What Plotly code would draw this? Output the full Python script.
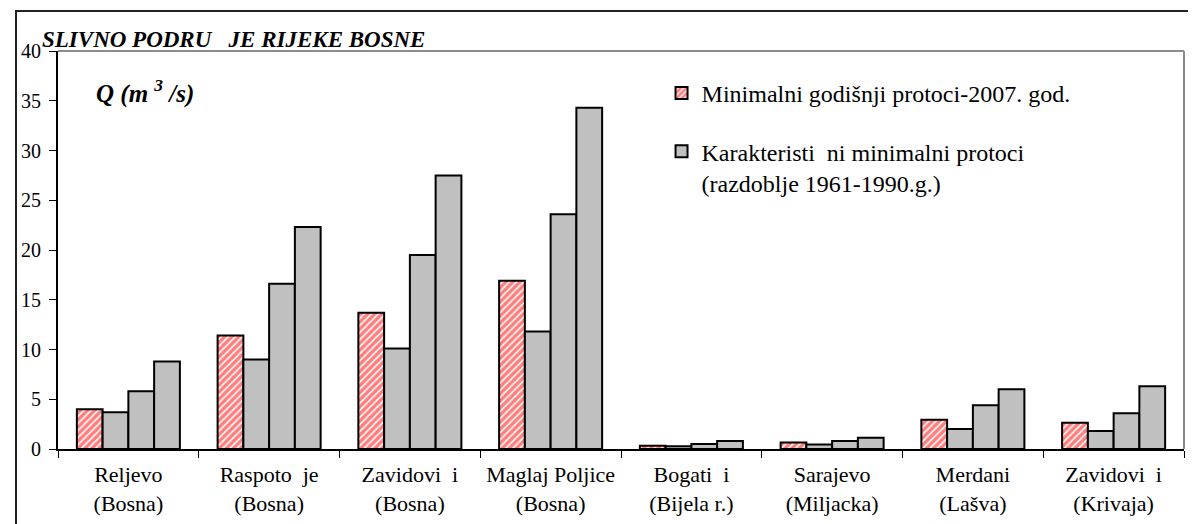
import plotly.graph_objects as go

NB = "\u00a0"
categories = [
    "Reljevo<br>(Bosna)",
    f"Raspoto{NB}{NB}je<br>(Bosna)",
    f"Zavidovi{NB}{NB}i<br>(Bosna)",
    "Maglaj Poljice<br>(Bosna)",
    f"Bogati{NB}{NB}i<br>(Bijela r.)",
    "Sarajevo<br>(Miljacka)",
    "Merdani<br>(Lašva)",
    f"Zavidovi{NB}{NB}i<br>(Krivaja)",
]
min_2007 = [4.0, 11.4, 13.7, 16.9, 0.33, 0.65, 2.95, 2.65]
char_min_a = [3.7, 9.0, 10.1, 11.8, 0.27, 0.46, 2.0, 1.8]
char_min_b = [5.8, 16.6, 19.5, 23.6, 0.5, 0.8, 4.4, 3.6]
char_min_c = [8.8, 22.3, 27.5, 34.3, 0.8, 1.14, 6.0, 6.3]
y_ticks = [0, 5, 10, 15, 20, 25, 30, 35, 40]

FONT = "Times New Roman"
GRAY = "#c0c0c0"

fig = go.Figure()
fig.add_trace(go.Bar(
    x=categories, y=min_2007, name="Minimalni godišnji protoci-2007. god.",
    legendgroup="a",
    marker=dict(color="white", line=dict(color="black", width=2),
                pattern=dict(shape="/", fgcolor="#ff0000", bgcolor="white",
                             size=5, solidity=0.7)),
))
gray_name = f"Karakteristi{NB}{NB}ni minimalni protoci<br>(razdoblje 1961-1990.g.)"
for i, vals in enumerate([char_min_a, char_min_b, char_min_c]):
    fig.add_trace(go.Bar(
        x=categories, y=vals, name=gray_name, legendgroup="b",
        showlegend=(i == 0),
        marker=dict(color=GRAY, line=dict(color="black", width=2)),
    ))

fig.update_layout(
    width=1196, height=524,
    margin=dict(l=50, r=20, t=43, b=83),
    paper_bgcolor="white", plot_bgcolor="white",
    barmode="group", bargap=0.268, bargroupgap=0,
    font=dict(family=FONT, size=20, color="black"),
    legend=dict(x=0.536, y=0.95, xanchor="left", yanchor="top",
                font=dict(family=FONT, size=24, color="black"),
                traceorder="grouped", tracegroupgap=24, valign="top",
                bgcolor="rgba(0,0,0,0)"),
    showlegend=True,
)
fig.update_yaxes(range=[0, 40], tickvals=y_ticks, ticks="outside", ticklen=7,
                 tickcolor="black", showline=True, linecolor="black", linewidth=2,
                 showgrid=False, zeroline=False, ticklabelstandoff=4,
                 tickfont=dict(family=FONT, size=20, color="black"))
fig.update_xaxes(ticks="outside", tickson="boundaries", ticklen=7, tickcolor="black",
                 showline=True, linecolor="black", linewidth=1.5, showgrid=False,
                 ticklabelstandoff=5,
                 tickfont=dict(family=FONT, size=22, color="black"))

# plot frame (top & right, gray)
fig.add_shape(type="line", xref="paper", yref="paper", x0=0, x1=1, y0=1, y1=1,
              line=dict(color="#8c8c8c", width=2), layer="above")
fig.add_shape(type="line", xref="paper", yref="paper", x0=1, x1=1, y0=0, y1=1,
              line=dict(color="#8c8c8c", width=2), layer="above")
# outer chart border
fig.add_shape(type="rect", xref="paper", yref="paper",
              x0=(8 - 50) / 1126, x1=(1191 - 50) / 1126,
              y0=(441 - 540) / 398, y1=(441 - 3) / 398,
              line=dict(color="#222222", width=2), fillcolor="rgba(0,0,0,0)", layer="above")

fig.add_annotation(x=(32 - 50) / 1126, y=1, xref="paper", yref="paper",
                   xanchor="left", yanchor="bottom", yshift=-3, showarrow=False,
                   text=f"<b><i>SLIVNO PODRU{NB}{NB}{NB}JE RIJEKE BOSNE</i></b>",
                   font=dict(family=FONT, size=23, color="black"))
fig.add_annotation(x=(86 - 50) / 1126, y=(441 - 83) / 398, xref="paper", yref="paper",
                   xanchor="left", yanchor="middle", showarrow=False,
                   text=f"<b><i>Q (m{NB}<sup>3</sup>{NB}/s)</i></b>",
                   font=dict(family=FONT, size=25, color="black"))

fig.write_html("out.html")
